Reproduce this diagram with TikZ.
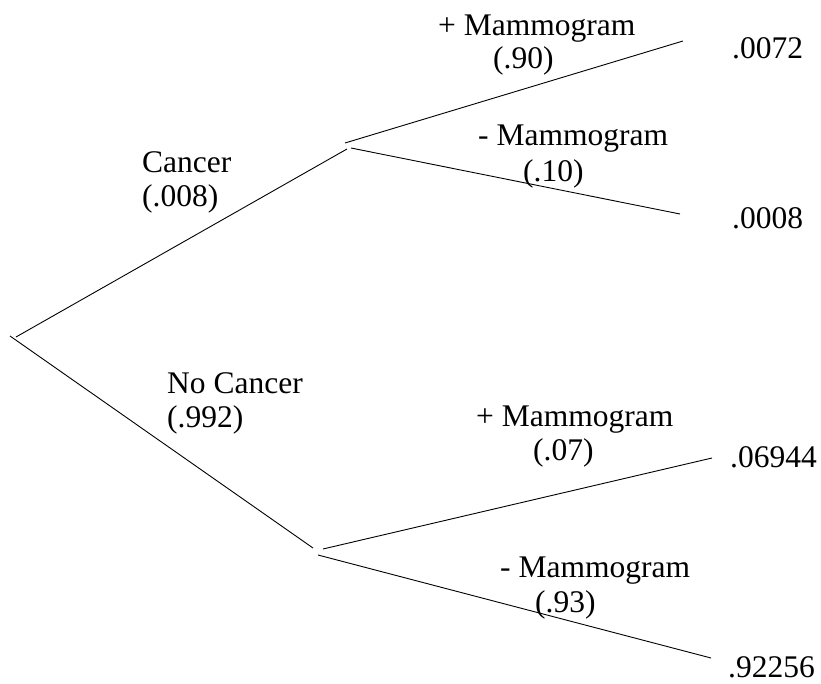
\documentclass[tikz,border=0pt]{standalone}
\usepackage{fontspec}
\setmainfont{Liberation Serif}
\begin{document}
\begin{tikzpicture}[x=1pt,y=-1pt,
  lbl/.style={anchor=base west,inner sep=0pt,font=\fontsize{31.5}{34}\selectfont},
  branch/.style={draw=black,line width=0.9pt}]
\useasboundingbox (0,0) rectangle (821,684);
% endpoints
\coordinate (r1) at (16,337);
\coordinate (c1) at (347,149);
\coordinate (r2) at (10,336);
\coordinate (n1) at (313,548);
\coordinate (ca) at (345,143);
\coordinate (pa) at (683,41);
\coordinate (cb) at (351,148);
\coordinate (pb) at (680,214);
\coordinate (na) at (323,549);
\coordinate (pc) at (712,458);
\coordinate (nb) at (318,555);
\coordinate (pd) at (711,658);
\draw[branch] (r1) -- (c1);
\draw[branch] (r2) -- (n1);
\draw[branch] (ca) -- (pa);
\draw[branch] (cb) -- (pb);
\draw[branch] (na) -- (pc);
\draw[branch] (nb) -- (pd);
% labels
\node[lbl] (t1) at (438,36) {+ Mammogram};
\node[lbl] (t1p) at (493,69) {(.90)};
\node[lbl] (v1) at (732,59) {.0072};
\node[lbl] (t2) at (478,146) {- Mammogram};
\node[lbl] (t2p) at (523,182) {(.10)};
\node[lbl] (v2) at (732,229) {.0008};
\node[lbl] (tc) at (142,173) {Cancer};
\node[lbl] (tcp) at (142,207) {(.008)};
\node[lbl] (tn) at (167,393) {No Cancer};
\node[lbl] (tnp) at (167,427) {(.992)};
\node[lbl] (t3) at (476,426) {+ Mammogram};
\node[lbl] (t3p) at (533,460) {(.07)};
\node[lbl] (v3) at (730,467) {.06944};
\node[lbl] (t4) at (500,577) {- Mammogram};
\node[lbl] (t4p) at (535,612) {(.93)};
\node[lbl] (v4) at (728,677) {.92256};
\end{tikzpicture}
\end{document}
